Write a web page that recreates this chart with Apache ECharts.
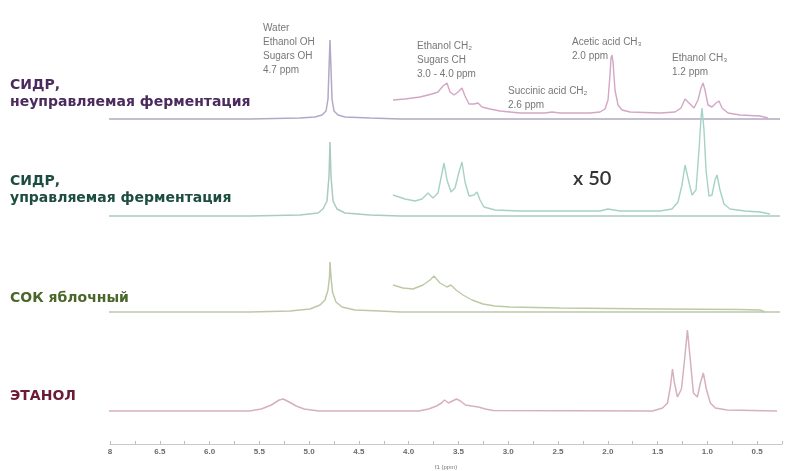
<!DOCTYPE html>
<html>
<head>
<meta charset="utf-8">
<script src="https://cdn.jsdelivr.net/npm/echarts@6/dist/echarts.min.js"></script>
<style>html,body{margin:0;padding:0;background:#fff}#c{width:785px;height:471px}</style>
</head>
<body>
<div id="c"></div>
<script>
// Axis ticks (ppm positions) and their printed labels
const ppmTicks = [7.0, 6.5, 6.0, 5.5, 5.0, 4.5, 4.0, 3.5, 3.0, 2.5, 2.0, 1.5, 1.0, 0.5];
const tickLabels = ['8', '6.5', '6.0', '5.5', '5.0', '4.5', '4.0', '3.5', '3.0', '2.5', '2.0', '1.5', '1.0', '0.5'];

// Sample names (top to bottom)
const sampleNames = [
  'СИДР,\nнеуправляемая ферментация',
  'СИДР,\nуправляемая ферментация',
  'СОК яблочный',
  'ЭТАНОЛ'
];

// [ppm, relative intensity]
const ciderWildFull = [[7.02,0],[5.6,0],[5.1,1],[4.95,2],[4.88,4],[4.84,8],[4.82,20],[4.81,50],[4.80,79],[4.79,50],[4.78,20],[4.76,8],[4.72,4],[4.65,2],[4.4,1],[4.1,0],[0.3,0]];
const ciderWildX50 = [[4.17,19],[4.05,20],[3.90,22],[3.78,25],[3.72,27],[3.67,33],[3.63,36],[3.60,27],[3.56,24],[3.52,27],[3.48,31],[3.45,23],[3.41,15],[3.36,15],[3.32,16],[3.28,12],[3.20,10],[3.10,8],[2.90,6],[2.65,6],[2.58,7],[2.50,6],[2.20,6],[2.10,7],[2.05,10],[2.02,19],[2.00,44],[1.99,61],[1.98,64],[1.97,57],[1.95,29],[1.92,14],[1.88,9],[1.80,7],[1.50,6],[1.35,7],[1.29,11],[1.25,20],[1.23,22],[1.20,15],[1.16,11],[1.12,19],[1.09,31],[1.07,36],[1.05,29],[1.02,14],[0.98,12],[0.94,16],[0.91,18],[0.88,11],[0.82,6],[0.70,4],[0.50,3],[0.42,1]];

const ciderCtrlFull = [[7.02,0],[5.6,0],[5.1,1],[4.92,3],[4.87,7],[4.83,15],[4.81,40],[4.80,74],[4.79,40],[4.77,15],[4.73,7],[4.65,3],[4.4,1],[4.1,0],[0.3,0]];
const ciderCtrlX50 = [[4.17,21],[4.05,17],[3.95,15],[3.88,17],[3.82,23],[3.77,18],[3.72,23],[3.69,38],[3.66,53],[3.63,36],[3.59,24],[3.55,28],[3.51,44],[3.48,54],[3.45,34],[3.41,20],[3.36,21],[3.33,24],[3.30,16],[3.26,9],[3.15,6],[2.90,5],[2.10,5],[2.02,7],[1.90,5],[1.50,5],[1.38,7],[1.32,14],[1.28,31],[1.25,51],[1.22,38],[1.18,21],[1.14,26],[1.11,66],[1.09,98],[1.08,108],[1.06,86],[1.04,46],[1.01,20],[0.98,21],[0.95,36],[0.93,41],[0.90,26],[0.86,12],[0.80,7],[0.65,5],[0.50,4],[0.40,2]];

const juiceFull = [[7.02,0],[5.6,0],[5.2,1],[5.0,3],[4.9,7],[4.85,12],[4.82,22],[4.805,35],[4.80,50],[4.79,35],[4.775,20],[4.74,10],[4.68,5],[4.55,2],[4.3,1],[4.1,0],[0.3,0]];
const juiceX50 = [[4.17,27],[4.07,24],[3.97,23],[3.87,27],[3.80,32],[3.76,36],[3.70,29],[3.63,25],[3.59,27],[3.54,22],[3.47,17],[3.38,12],[3.27,8],[3.15,6],[3.00,5],[2.50,4],[1.50,3],[0.70,2.5],[0.50,2],[0.45,0]];

const ethanolFull = [[7.02,0],[5.6,0],[5.48,2],[5.38,6],[5.30,11],[5.26,12],[5.20,9],[5.13,5],[5.05,2],[4.90,0],[3.90,0],[3.80,2],[3.72,5],[3.67,8],[3.64,11],[3.60,8],[3.56,10],[3.52,12],[3.48,10],[3.43,6],[3.37,5],[3.30,4],[3.23,2],[3.15,0.5],[1.55,0],[1.45,3],[1.40,8],[1.37,25],[1.35,42],[1.33,28],[1.30,14],[1.26,22],[1.23,50],[1.20,81],[1.17,50],[1.14,18],[1.10,14],[1.07,28],[1.04,38],[1.01,22],[0.97,8],[0.92,3],[0.80,1],[0.30,0]];

const baselines = [119, 216, 312, 411];
const labelColors = ['#4b2a5e', '#1d4d40', '#4a6629', '#6b1a37'];

const chart = echarts.init(document.getElementById('c'), null, {renderer: 'canvas'});

const grids = baselines.map(b => ({left: 110, right: 0, top: b - 100, height: 100}));
const xAxes = baselines.map((b, i) => ({
  gridIndex: i, type: 'value', min: 0.25, max: 7.0, inverse: true, interval: 0.25,
  show: i === 3,
  position: 'bottom',
  offset: i === 3 ? 33 : 0,
  axisLine: {show: true, onZero: false, lineStyle: {color: '#c9c9c9', width: 1}},
  axisTick: {show: true, inside: true, length: 3, lineStyle: {color: '#bdbdbd'}},
  splitLine: {show: false},
  axisLabel: {
    show: true, margin: 4, fontSize: 8, fontWeight: 'bold', color: '#6a6a6a',
    fontFamily: 'Liberation Sans',
    formatter: v => { const k = ppmTicks.findIndex(t => Math.abs(t - v) < 1e-6); return k >= 0 ? tickLabels[k] : ''; }
  },
  name: i === 3 ? 'f1 (ppm)' : '', nameLocation: 'middle', nameGap: 20,
  nameTextStyle: {fontSize: 6, color: '#777', fontFamily: 'Liberation Sans'}
}));
const yAxes = baselines.map((b, i) => ({gridIndex: i, type: 'value', min: 0, max: 100, show: false}));

function line(data, i, color, width, z) {
  return {type: 'line', xAxisIndex: i, yAxisIndex: i, data, showSymbol: false, symbol: 'none',
    clip: false, silent: true, z, lineStyle: {color, width}};
}

const series = [
  line(ciderWildFull, 0, '#b3a8c6', 1.5, 2),
  line(ciderWildX50, 0, '#d3a6c6', 1.4, 3),
  line(ciderCtrlFull, 1, '#a9cbc0', 1.5, 2),
  line(ciderCtrlX50, 1, '#a6d2c6', 1.4, 3),
  line(juiceFull, 2, '#bcc8a8', 1.5, 2),
  line(juiceX50, 2, '#bccaa4', 1.4, 3),
  line(ethanolFull, 3, '#d7b0bf', 1.5, 2)
];

const annFont = '10px "Liberation Sans"';
const annColor = '#777777';
function ann(x, y, text) {
  return {type: 'text', left: x, top: y, silent: true,
    style: {text, font: annFont, fill: annColor, lineHeight: 14}};
}
const labelTops = [77, 173, 290, 388];
const graphics = [
  ann(263, 21, 'Water\nEthanol OH\nSugars OH\n4.7 ppm'),
  ann(417, 39, 'Ethanol CH₂\nSugars CH\n3.0 - 4.0 ppm'),
  ann(508, 84, 'Succinic acid CH₂\n2.6 ppm'),
  ann(572, 35, 'Acetic acid CH₃\n2.0 ppm'),
  ann(672, 51, 'Ethanol CH₃\n1.2 ppm'),
  {type: 'text', left: 573, top: 169, silent: true,
    style: {text: 'x 50', font: '600 20px Lato', fill: '#333'}},
  ...sampleNames.map((t, i) => ({type: 'text', left: 10, top: labelTops[i], silent: true,
    style: {text: t, font: 'bold 14px "DejaVu Sans"', fill: labelColors[i], lineHeight: 17}}))
];

chart.setOption({
  animation: false,
  backgroundColor: '#fff',
  grid: grids, xAxis: xAxes, yAxis: yAxes, series, graphic: graphics
});
</script>
</body>
</html>
